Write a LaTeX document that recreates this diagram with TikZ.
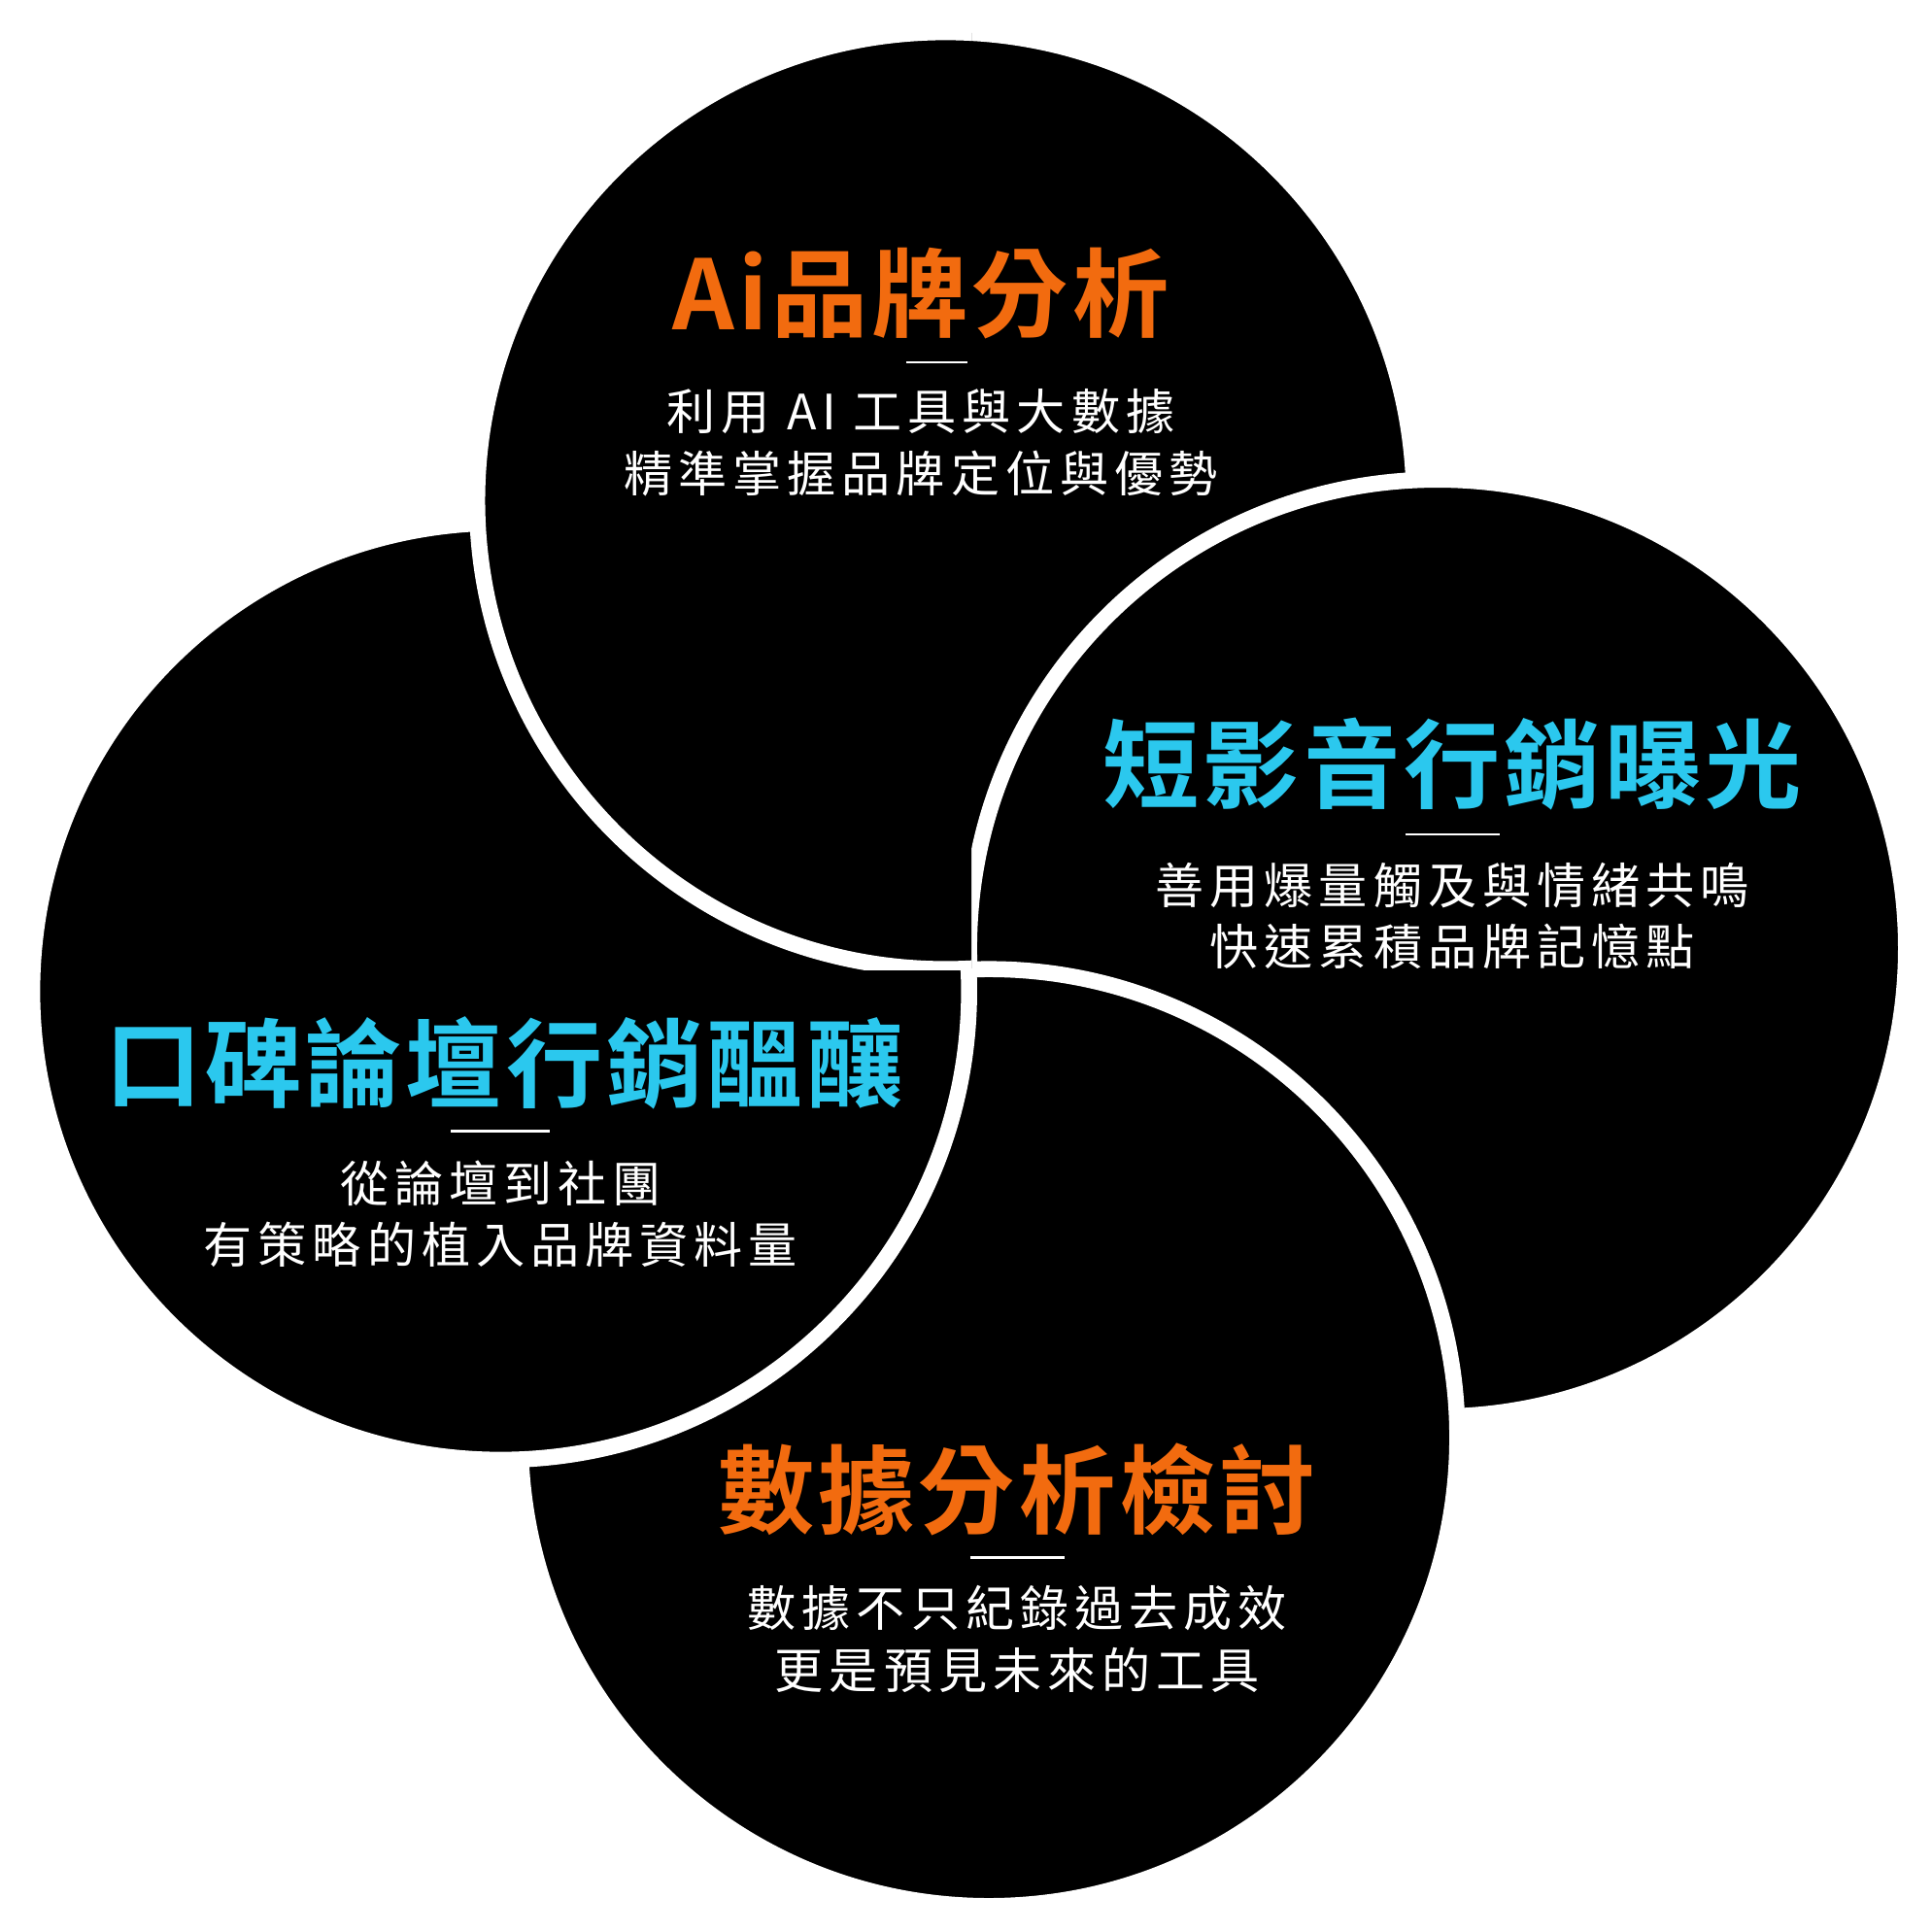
\documentclass[tikz,border=0pt]{standalone}
\usepackage{fontspec}
\newfontfamily\cjk{Noto Sans CJK TC}
\newfontfamily\cjkbold[LetterSpace=4]{Noto Sans CJK TC Bold}
\newfontfamily\cjkbody[LetterSpace=12]{Noto Sans CJK TC}
\definecolor{brandorange}{HTML}{F26B0F}
\definecolor{brandcyan}{HTML}{2BC8EE}
\tikzset{
    disc/.style={fill=black, draw=white, line width=0.13cm},
    headline/.style={font=\cjkbold\fontsize{22.2}{25}\selectfont},
    bodytext/.style={text=white, align=center, font=\cjkbody\fontsize{11.2}{14.2}\selectfont},
    divider/.style={white, line width=0.02cm}
}
\begin{document}
\begin{tikzpicture}
    \useasboundingbox[fill=white] (0,0) rectangle (15.63,-15.63);

    % Four discs (top, right, bottom, left)
    \draw[disc] (7.65,-4.05) circle (3.79);
    \draw[disc] (11.63,-7.67) circle (3.79);
    \draw[disc] (8.00,-11.63) circle (3.79);
    \draw[disc] (4.05,-8.02) circle (3.79);
    % top disc back over the left one
    \begin{scope}
        \clip (0,0) rectangle (7.86,-7.85);
        \draw[disc] (7.65,-4.05) circle (3.79);
    \end{scope}

    % Top
    \node[headline, text=brandorange] (aititle) at (7.45,-2.37) {Ai品牌分析};
    \coordinate (ailine) at (7.58,-2.93);
    \draw[divider] ([xshift=-0.25cm]ailine) -- ([xshift=0.25cm]ailine);
    \node[bodytext] (aitext) at (7.45,-3.58) {利用 AI 工具與大數據\\精準掌握品牌定位與優勢};

    % Right
    \node[headline, text=brandcyan] (videotitle) at (11.75,-6.18) {短影音行銷曝光};
    \coordinate (videoline) at (11.75,-6.75);
    \draw[divider] ([xshift=-0.38cm]videoline) -- ([xshift=0.38cm]videoline);
    \node[bodytext] (videotext) at (11.75,-7.41) {善用爆量觸及與情緒共鳴\\快速累積品牌記憶點};

    % Left
    \node[headline, text=brandcyan] (forumtitle) at (4.08,-8.60) {口碑論壇行銷醞釀};
    \coordinate (forumline) at (4.05,-9.15);
    \draw[divider] ([xshift=-0.4cm]forumline) -- ([xshift=0.4cm]forumline);
    \node[bodytext] (forumtext) at (4.05,-9.82) {從論壇到社團\\有策略的植入品牌資料量};

    % Bottom
    \node[headline, text=brandorange] (datatitle) at (8.23,-12.05) {數據分析檢討};
    \coordinate (dataline) at (8.23,-12.60);
    \draw[divider] ([xshift=-0.38cm]dataline) -- ([xshift=0.38cm]dataline);
    \node[bodytext] (datatext) at (8.23,-13.26) {數據不只紀錄過去成效\\更是預見未來的工具};
\end{tikzpicture}
\end{document}
